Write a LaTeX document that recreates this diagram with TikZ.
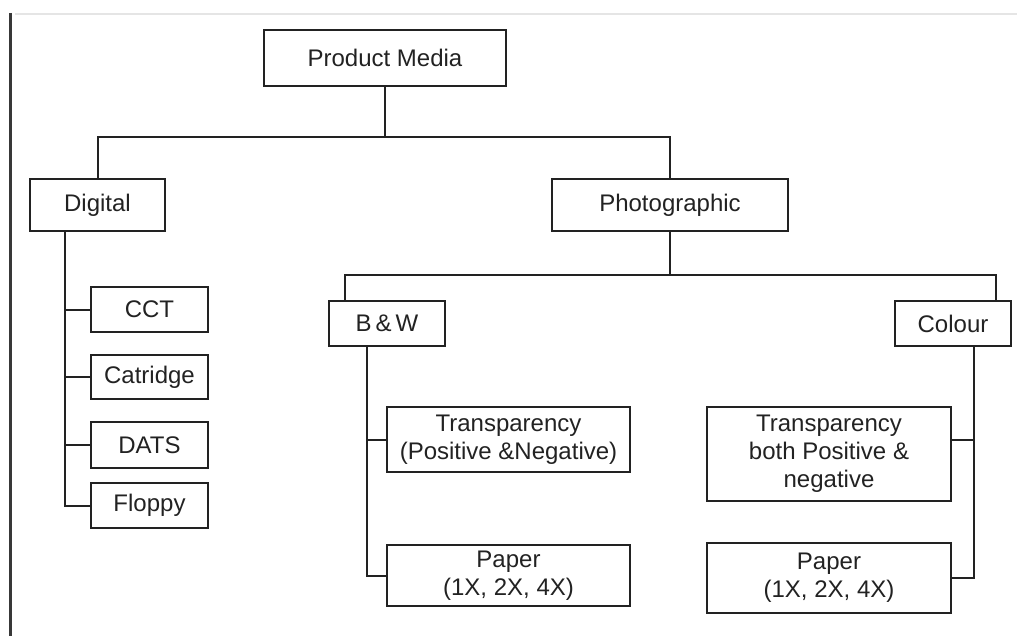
\documentclass[tikz,border=0pt]{standalone}
\usepackage{fontspec}
\setmainfont{Liberation Sans}
\definecolor{ink}{HTML}{222222}
\begin{document}
\begin{tikzpicture}[x=0.5pt,y=-0.5pt,
		line width=1pt, draw=ink,
		box/.style={draw=ink, text=ink, line width=1pt, inner sep=0pt, align=center,
			font=\fontsize{12}{14}\selectfont},
		link/.style={draw=ink, line width=1pt}]
		\useasboundingbox (0,0) rectangle (1017,636);
		\draw[gray!20, line width=0.6pt] (15,14) -- (1017,14);
		\draw[ink!90, line width=1.5pt] (10,13) -- (10,636);
		% boxes
		\node[box, minimum width=121pt, minimum height=28pt] (media) at (385,58) {Product Media};
		\node[box, minimum width=67.5pt, minimum height=26pt] (digital) at (97.5,205) {Digital};
		\node[box, minimum width=118pt, minimum height=26pt] (photo) at (670,205) {Photographic};
		\node[box, minimum width=58.5pt, minimum height=22.5pt] (cct) at (149.5,309.5) {CCT};
		\node[box, minimum width=58.5pt, minimum height=22pt] (catridge) at (149.5,377) {Catridge};
		\node[box, minimum width=58.5pt, minimum height=23pt] (dats) at (149.5,445) {DATS};
		\node[box, minimum width=58.5pt, minimum height=22.5pt] (floppy) at (149.5,505.5) {Floppy};
		\node[box, minimum width=58pt, minimum height=22.5pt] (bw) at (387,323.5) {B\,\&\,W};
		\node[box, minimum width=58pt, minimum height=22.5pt] (colour) at (953,323.5) {Colour};
		\node[box, minimum width=121.5pt, minimum height=32.5pt] (btrans) at (508.5,439.5)
			{Transparency\\(Positive \&Negative)};
		\node[box, minimum width=121.5pt, minimum height=30.5pt] (bpaper) at (508.5,575.5)
			{Paper\\(1X, 2X, 4X)};
		\node[box, minimum width=122pt, minimum height=47pt] (ctrans) at (829,454)
			{Transparency\\both Positive \&\\negative};
		\node[box, minimum width=122pt, minimum height=35pt] (cpaper) at (829,578)
			{Paper\\(1X, 2X, 4X)};
		% bus lines and stems
		\coordinate (bus1) at (0,137);
		\coordinate (bus2) at (0,275);
		\coordinate (digstem) at (65,0);
		\coordinate (bwstem) at (345,0);
		\coordinate (bwdown) at (367,0);
		\coordinate (colstem) at (996,0);
		\coordinate (coldown) at (974,0);
		\draw[link] (media.south) -- (media.south |- bus1);
		\draw[link] (digital.north) |- (photo.north |- bus1) -- (photo.north);
		\draw[link] (photo.south) -- (photo.south |- bus2);
		\draw[link] (bwstem |- bw.north) |- (colstem |- bus2) -- (colstem |- colour.north);
		\draw[link] (digstem |- digital.south) |- (floppy.west);
		\foreach \n in {cct,catridge,dats}
			\draw[link] (digstem |- \n.west) -- (\n.west);
		\draw[link] (bwdown |- bw.south) |- (bpaper.west);
		\draw[link] (bwdown |- btrans.west) -- (btrans.west);
		\draw[link] (coldown |- colour.south) |- (cpaper.east);
		\draw[link] (coldown |- btrans) -- (ctrans.east |- btrans);
	%
	\end{tikzpicture}
\end{document}
